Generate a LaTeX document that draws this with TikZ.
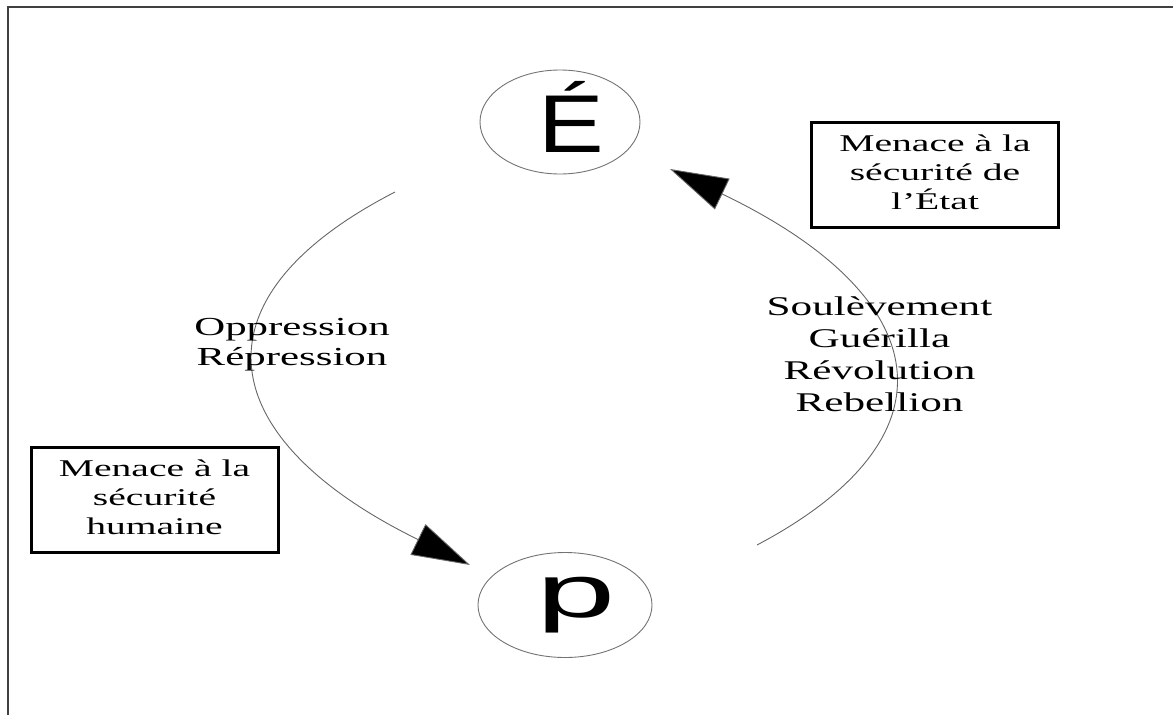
\documentclass[tikz,border=0pt]{standalone}
\usepackage{fontspec}
\setmainfont{Liberation Serif}
\newfontfamily\lettersans{Liberation Sans}
\usetikzlibrary{arrows.meta,shapes.geometric}

% horizontally widened, centred block of lines
\newcommand\widetext[2]{\scalebox{#1}[1]{\begin{tabular}{@{}c@{}}#2\end{tabular}}}

\tikzset{
  frameline/.style={draw=black!75, line width=1.8pt},
  actor/.style={ellipse, draw=black!55, line width=0.9pt, inner sep=0pt},
  bigletter/.style={inner sep=0pt, anchor=base, font=\lettersans},
  menace/.style={rectangle, draw=black, line width=3pt, inner sep=0pt,
                 minimum width=247pt, minimum height=105pt,
                 font=\fontsize{24}{29}\selectfont},
  flowlabel/.style={inner sep=0pt},
  flow/.style={draw=black!60, line width=0.9pt,
               -{Triangle[length=58pt, width=34pt, fill=black]}},
}

\begin{document}
\begin{tikzpicture}[x=1pt, y=-1pt]
  \useasboundingbox (0,0) rectangle (1173,715);

  % outer frame (left and top edges)
  \draw[frameline] (8,715) -- (8,7) -- (1173,7);

  % the two actors
  \node[actor, minimum width=160pt, minimum height=104pt] (E) at (560,122) {};
  \node[bigletter, font=\lettersans\fontsize{82}{82}\selectfont] (Eletter) at (571,152) {\scalebox{1.2}[1]{É}};

  \node[actor, minimum width=174pt, minimum height=105pt] (P) at (565,605) {};
  \node[bigletter, font=\lettersans\fontsize{75}{75}\selectfont] (Pletter) at (576,617) {\scalebox{1.9}[1]{p}};

  % threat boxes
  \node[menace] (menaceEtat) at (935,175) {\widetext{1.65}{Menace à la\\sécurité de\\l’État}};
  \node[menace] (menaceHum) at (154.5,499.5) {\widetext{1.65}{Menace à la\\sécurité\\humaine}};

  % state against people
  \coordinate (oppStart) at (395,192);
  \coordinate (oppEnd) at (470,565);
  \draw[flow] (oppStart) .. controls (185,300) and (215,440) .. (oppEnd);
  \node[flowlabel, font=\fontsize{26}{30}\selectfont] (oppLabel) at (292,344)
    {\widetext{1.65}{Oppression\\Répression}};

  % people against state
  \coordinate (revStart) at (757,545);
  \coordinate (revEnd) at (670,169);
  \draw[flow] (revStart) .. controls (963,436) and (935,296) .. (revEnd);
  \node[flowlabel, font=\fontsize{27}{32.3}\selectfont] (revLabel) at (879.5,357)
    {\widetext{1.6}{Soulèvement\\Guérilla\\Révolution\\Rebellion}};
\end{tikzpicture}
\end{document}
